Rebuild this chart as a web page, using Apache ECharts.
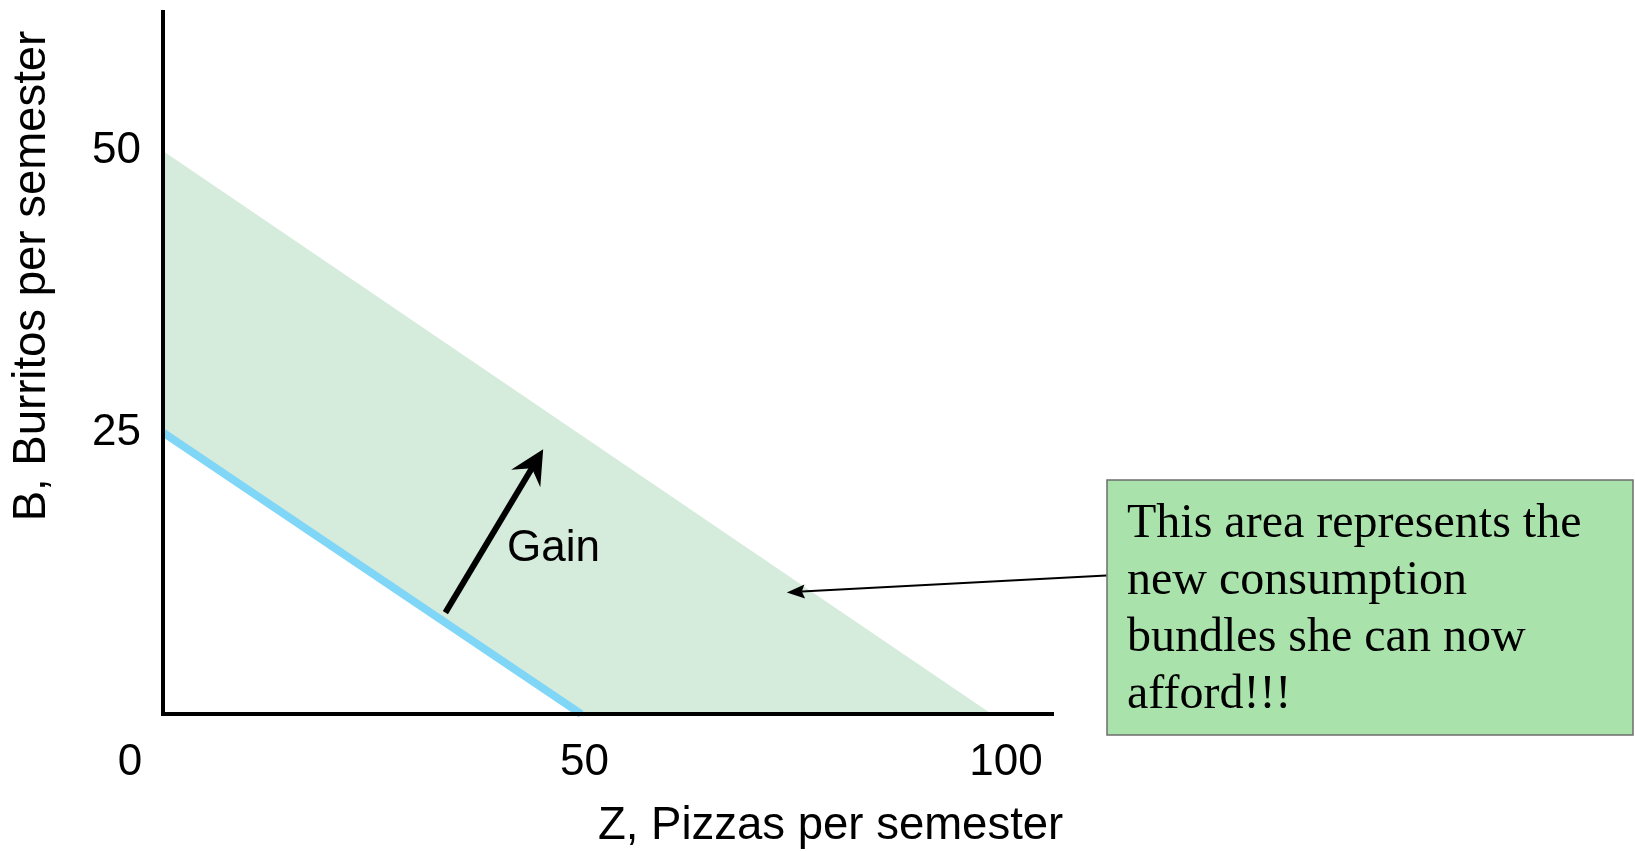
<!DOCTYPE html>
<html><head><meta charset="utf-8">
<script src="https://cdn.jsdelivr.net/npm/echarts@6/dist/echarts.min.js"></script>
<style>html,body{margin:0;padding:0;background:#fff}#c{width:1635px;height:851px}</style>
</head><body><div id="c"></div>
<script>
// ---- data ----
const xTickLabels = [0, 50, 100];
const yTickLabels = [25, 50];
const initialBudget = [[0, 25], [49.6, 0]];
const newBudget = [[0, 50], [98.3, 0]];
const gainArrow = [[33.5, 9.0], [45.1, 23.5]];
const calloutArrow = [[111.9, 12.3], [74.0, 10.8]];
const gainLabel = ['Gain', 40.8, 14.7];
const calloutLines = ['This area represents the', 'new consumption', 'bundles she can now', 'afford!!!'];
const xName = 'Z, Pizzas per semester';
const yName = 'B, Burritos per semester';

const SANS = '"Liberation Sans", Arial, Helvetica, sans-serif';
const SERIF = '"Liberation Serif", "Times New Roman", serif';

function arrowShape(a, b, o) {
  const dx = b[0] - a[0], dy = b[1] - a[1], len = Math.hypot(dx, dy);
  const ux = dx / len, uy = dy / len, nx = -uy, ny = ux;
  const base = [b[0] - ux * o.len, b[1] - uy * o.len];
  const notch = [b[0] - ux * o.notch, b[1] - uy * o.notch];
  const head = [b, [base[0] + nx * o.half, base[1] + ny * o.half], notch, [base[0] - nx * o.half, base[1] - ny * o.half]];
  return {
    type: 'group', children: [
      { type: 'line', shape: { x1: a[0], y1: a[1], x2: notch[0], y2: notch[1] }, style: { stroke: '#000', lineWidth: o.w } },
      { type: 'polygon', shape: { points: head }, style: { fill: '#000' } }
    ]
  };
}
function arrowSeries(pts, o) {
  return {
    type: 'custom', data: [0], clip: false, silent: true, z: 6,
    renderItem: (params, api) => arrowShape(api.coord(pts[0]), api.coord(pts[1]), o)
  };
}

const chart = echarts.init(document.getElementById('c'), null, { renderer: 'canvas' });
const option = {
  animation: false,
  backgroundColor: '#fff',
  grid: { left: 163, top: 12, right: 1635 - 1052, bottom: 851 - 714 },
  xAxis: {
    type: 'value', min: 0, max: 105.46, interval: 50, z: 5,
    axisLine: { show: true, onZero: false, lineStyle: { color: '#000', width: 4, cap: 'square' } },
    axisTick: { show: false }, splitLine: { show: false },
    axisLabel: {
      margin: 27, fontSize: 44, color: '#000', fontFamily: SANS, showMinLabel: true,
      formatter: v => xTickLabels.includes(v) ? (v === 0 ? '{o|' + v + '}' : String(v)) : '',
      rich: { o: { fontSize: 44, color: '#000', fontFamily: SANS, padding: [0, 66, 0, 0] } }
    }
  },
  yAxis: {
    type: 'value', min: 0, max: 62.34, interval: 25, z: 5,
    axisLine: { show: true, onZero: false, lineStyle: { color: '#000', width: 4, cap: 'square' } },
    axisTick: { show: false }, splitLine: { show: false },
    axisLabel: {
      margin: 22, fontSize: 44, color: '#000', fontFamily: SANS,
      formatter: v => yTickLabels.includes(v) ? String(v) : ''
    }
  },
  series: [
    {
      type: 'custom', data: [0], silent: true, z: 1,
      renderItem: (params, api) => ({
        type: 'polygon',
        shape: { points: newBudget.concat(initialBudget.slice().reverse()).map(p => api.coord(p)) },
        style: { fill: '#d5ebdc' }
      })
    },
    {
      type: 'line', data: initialBudget, showSymbol: false, symbol: 'none', clip: true, z: 2,
      lineStyle: { color: '#7fd6f6', width: 8, cap: 'butt' }, silent: true
    },
    arrowSeries(gainArrow, { w: 6, len: 34, half: 17, notch: 22 }),
    arrowSeries(calloutArrow, { w: 2, len: 18, half: 7, notch: 15 }),
    {
      type: 'custom', data: [gainLabel], clip: false, silent: true, z: 6,
      renderItem: (params, api) => {
        const p = api.coord([api.value(1), api.value(2)]);
        return { type: 'text', x: p[0], y: p[1], style: { text: gainLabel[0], font: '44px ' + SANS, fill: '#000', align: 'left', verticalAlign: 'middle' } };
      }
    }
  ],
  graphic: [
    { type: 'text', x: 598, y: 826, style: { text: xName, font: '45.5px ' + SANS, fill: '#000', align: 'left', verticalAlign: 'middle' } },
    { type: 'text', x: 32.5, y: 276, rotation: Math.PI / 2, style: { text: yName, font: '45.5px ' + SANS, fill: '#000', align: 'center', verticalAlign: 'middle' } },
    { type: 'rect', shape: { x: 1107, y: 480, width: 526, height: 255 }, style: { fill: '#a9e2ab', stroke: '#6e6e6e', lineWidth: 1.5 } },
    { type: 'text', x: 1127, y: 496, style: { text: calloutLines.join('\n'), font: '48px ' + SERIF, lineHeight: 57, fill: '#000', align: 'left', verticalAlign: 'top' } }
  ]
};
chart.setOption(option);
</script>
</body></html>
